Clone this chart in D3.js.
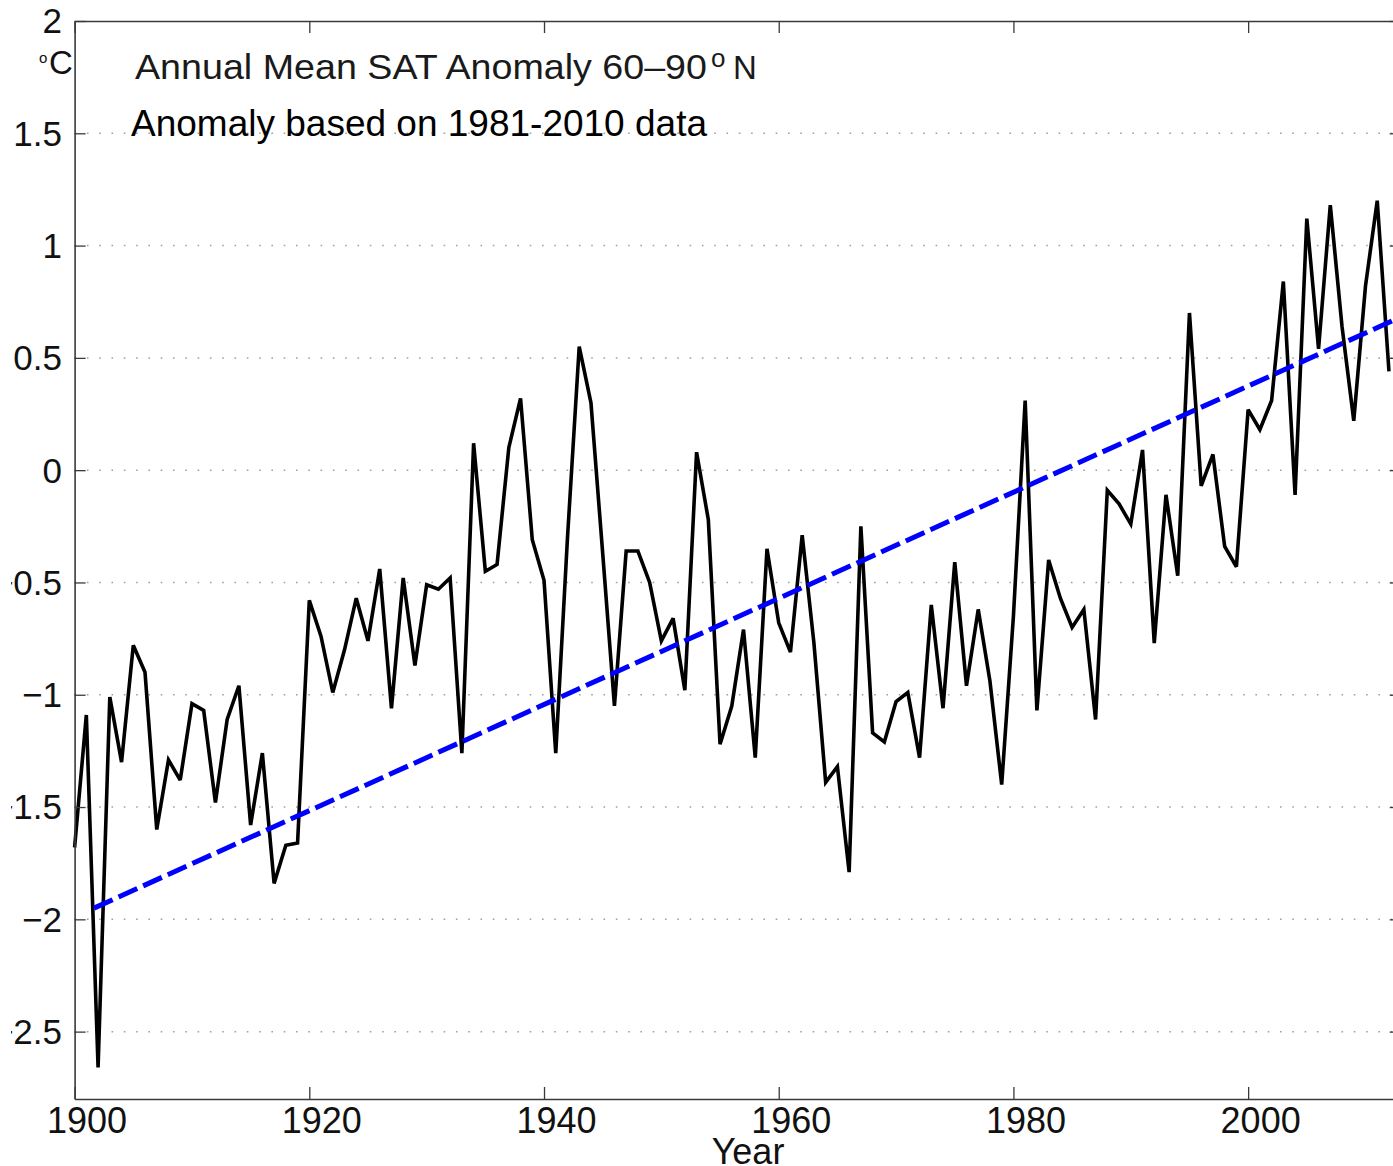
<!DOCTYPE html>
<html>
<head>
<meta charset="utf-8">
<script src="https://cdn.jsdelivr.net/npm/d3@7"></script>
<style>
  html, body { margin: 0; padding: 0; background: #fff; }
  svg { display: block; }
  text { font-family: "Liberation Sans", Arial, Helvetica, sans-serif; }
</style>
</head>
<body>
<svg id="chart" width="1393" height="1166"></svg>
<script>
// ---------- data ----------
const years = d3.range(1900, 2013);
const anomalies = [
  -1.68, -1.09, -2.66, -1.01, -1.30, -0.78, -0.90, -1.60, -1.29, -1.38,
  -1.04, -1.07, -1.48, -1.11, -0.96, -1.58, -1.26, -1.84, -1.67, -1.66,
  -0.58, -0.74, -0.99, -0.80, -0.57, -0.76, -0.44, -1.06, -0.48, -0.87,
  -0.51, -0.53, -0.48, -1.26,  0.12, -0.45, -0.42,  0.10,  0.32, -0.31,
  -0.49, -1.26, -0.30,  0.55,  0.30, -0.37, -1.05, -0.36, -0.36, -0.50,
  -0.76, -0.66, -0.98,  0.08, -0.22, -1.22, -1.05, -0.71, -1.28, -0.35,
  -0.68, -0.81, -0.29, -0.77, -1.39, -1.32, -1.79, -0.25, -1.17, -1.21,
  -1.03, -0.99, -1.28, -0.60, -1.06, -0.41, -0.96, -0.62, -0.94, -1.40,
  -0.65,  0.31, -1.07, -0.40, -0.57, -0.70, -0.62, -1.11, -0.09, -0.15,
  -0.24,  0.09, -0.77, -0.11, -0.47,  0.70, -0.07,  0.07, -0.34, -0.43,
   0.27,  0.18,  0.31,  0.84, -0.11,  1.12,  0.54,  1.18,  0.64,  0.22,
   0.82,  1.20,  0.44
];
const trendYears = [1901.65, 2012.5];
const trendValues = [-1.95, 0.67];
const xTicks = [1900, 1920, 1940, 1960, 1980, 2000];
const yTicks = [2, 1.5, 1, 0.5, 0, -0.5, -1, -1.5, -2, -2.5];
const gridValues = [1.5, 1, 0.5, 0, -0.5, -1, -1.5, -2, -2.5];
const titleText = "Annual Mean SAT Anomaly 60\u201390";
const subtitleText = "Anomaly based on 1981-2010 data";
const xLabel = "Year";

// ---------- layout ----------
const plotLeft = 74.6, plotRight = 1400.7, plotTop = 21, plotBottom = 1099;
const x = d3.scaleLinear().domain([1900, 2013]).range([plotLeft, plotRight]);
const y = d3.scaleLinear().domain([-2.8, 2]).range([plotBottom, plotTop]);

const svg = d3.select("#chart");
svg.append("rect").attr("width", 1393).attr("height", 1166).attr("fill", "#fff");

// the reference image is trimmed on its left edge: tick-label minus signs are cut
svg.append("clipPath").attr("id", "leftTrim")
  .append("rect").attr("x", 11).attr("y", 0).attr("width", 1393).attr("height", 1166);

const fmt = v => (v < 0 ? "\u2212" : "") + Math.abs(v);

// gridlines (dotted)
svg.append("g").selectAll("line").data(gridValues).join("line")
  .attr("x1", plotLeft).attr("x2", plotRight)
  .attr("y1", d => y(d)).attr("y2", d => y(d))
  .attr("stroke", "#a0a0a0").attr("stroke-width", 1.5)
  .attr("stroke-dasharray", "1.6,10.7");

// data line
const line = d3.line().x((d, i) => x(years[i])).y(d => y(d));
svg.append("path").datum(anomalies)
  .attr("d", line)
  .attr("fill", "none").attr("stroke", "#000")
  .attr("stroke-width", 3.6).attr("stroke-linejoin", "miter")
  .attr("stroke-miterlimit", 3);

// trend line
svg.append("path").datum(trendValues)
  .attr("d", d3.line().x((d, i) => x(trendYears[i])).y(d => y(d)))
  .attr("fill", "none").attr("stroke", "#0000ff")
  .attr("stroke-width", 5).attr("stroke-dasharray", "20.5,6.5");

// axes
const axisColor = "#3a3a3a";
function styleAxis(g) {
  g.select(".domain").attr("stroke", axisColor).attr("stroke-width", 1.6);
  g.selectAll(".tick line").attr("stroke", axisColor).attr("stroke-width", 1.3);
  g.selectAll(".tick text").attr("fill", "#111");
}

const gLeft = svg.append("g").attr("transform", `translate(${plotLeft},0)`)
  .attr("clip-path", null)
  .call(d3.axisLeft(y).tickValues(yTicks).tickFormat(fmt)
        .tickSizeInner(-11).tickSizeOuter(0).tickPadding(12.6))
  .attr("font-size", 35).attr("font-family", null);
styleAxis(gLeft);
gLeft.selectAll(".tick text").attr("dy", "0.34em");

// apply the left trim to the label texts only (in page coordinates)
const labelLayer = svg.append("g").attr("clip-path", "url(#leftTrim)");
gLeft.selectAll(".tick text").each(function() {
  const t = d3.select(this);
  const parentTick = d3.select(this.parentNode);
  const tr = parentTick.attr("transform");
  const m = /translate\(([^,]+),([^)]+)\)/.exec(tr);
  const ty = m ? +m[2] : 0;
  labelLayer.append("text")
    .attr("x", plotLeft - 12.6).attr("y", ty).attr("dy", "0.34em")
    .attr("text-anchor", "end").attr("font-size", 35).attr("fill", "#111")
    .text(t.text());
  t.remove();
});

const gRight = svg.append("g").attr("transform", `translate(${plotRight},0)`)
  .call(d3.axisRight(y).tickValues(yTicks).tickFormat("")
        .tickSizeInner(-11).tickSizeOuter(0));
styleAxis(gRight);

const gBottom = svg.append("g").attr("transform", `translate(0,${plotBottom})`)
  .call(d3.axisBottom(x).tickValues(xTicks).tickFormat(d3.format("d"))
        .tickSizeInner(-12).tickSizeOuter(0).tickPadding(8))
  .attr("font-size", 36).attr("font-family", null);
styleAxis(gBottom);
gBottom.selectAll(".tick text").attr("x", 12);

const gTop = svg.append("g").attr("transform", `translate(0,${plotTop})`)
  .call(d3.axisTop(x).tickValues(xTicks).tickFormat("")
        .tickSizeInner(-12).tickSizeOuter(0));
styleAxis(gTop);

// axis label
svg.append("text").attr("x", 748).attr("y", 1164)
  .attr("text-anchor", "middle").attr("font-size", 36).attr("fill", "#111")
  .text(xLabel);

// unit label (°C)
svg.append("text").attr("x", 39).attr("y", 63)
  .attr("font-size", 15).attr("fill", "#111").text("o");
svg.append("text").attr("x", 49).attr("y", 74)
  .attr("font-size", 33).attr("fill", "#111").text("C");

// title
svg.append("text").attr("x", 135).attr("y", 79)
  .attr("font-size", 35).attr("fill", "#1a1a1a")
  .attr("textLength", 572).attr("lengthAdjust", "spacingAndGlyphs")
  .text(titleText);
svg.append("text").attr("x", 711).attr("y", 67)
  .attr("font-size", 26).attr("fill", "#1a1a1a").text("o");
svg.append("text").attr("x", 733).attr("y", 79)
  .attr("font-size", 33).attr("fill", "#1a1a1a").text("N");

// subtitle
svg.append("text").attr("x", 131).attr("y", 136)
  .attr("font-size", 37).attr("fill", "#000")
  .attr("textLength", 576).attr("lengthAdjust", "spacingAndGlyphs")
  .text(subtitleText);
</script>
</body>
</html>
